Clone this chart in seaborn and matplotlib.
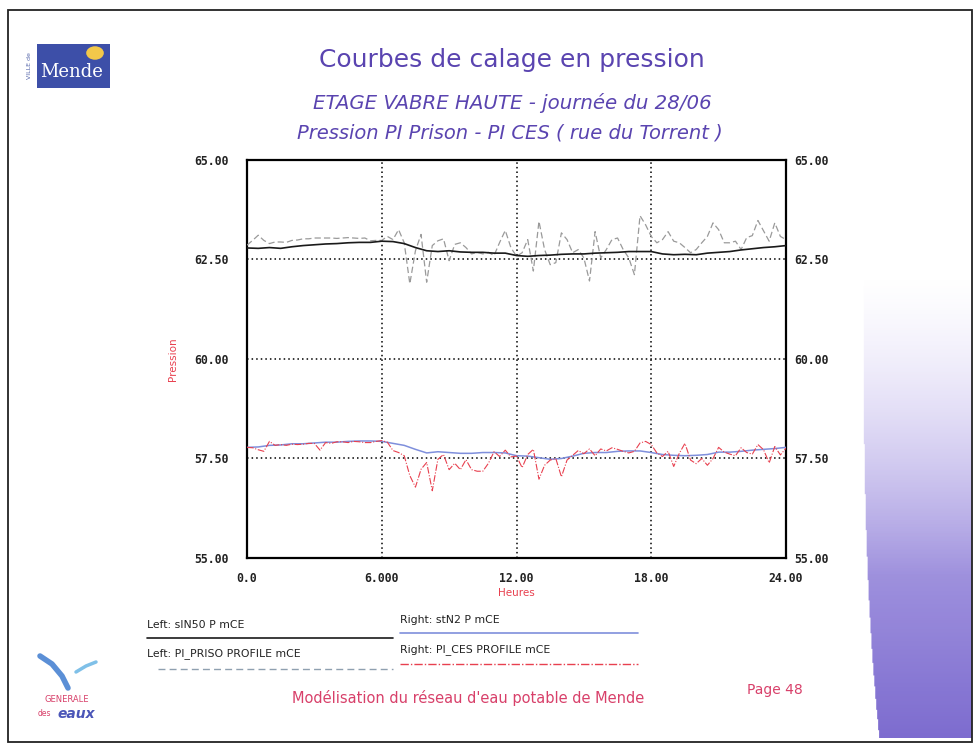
import numpy as np
import pandas as pd
import matplotlib
matplotlib.use("Agg")
import matplotlib.pyplot as plt
import seaborn as sns
from matplotlib.patches import Rectangle, Circle
from matplotlib.lines import Line2D

# ---------------- data ----------------
# half-hour time stamps for smooth series, quarter-hour for measured profiles
hours_half = np.linspace(0, 24, 49)
hours_quarter = np.linspace(0, 24, 97)

x_ticks = [0, 6, 12, 18, 24]
x_tick_labels = ["0.0", "6.000", "12.00", "18.00", "24.00"]
y_ticks = [55, 57.5, 60, 62.5, 65]
y_tick_labels = ["55.00", "57.50", "60.00", "62.50", "65.00"]

# Left: sIN50 P mCE (black, model)
sin50 = [62.79, 62.78, 62.80, 62.78, 62.82, 62.85, 62.87, 62.89, 62.90, 62.92,
         62.93, 62.93, 62.96, 62.95, 62.90, 62.80, 62.72, 62.70, 62.72, 62.69,
         62.68, 62.68, 62.66, 62.66, 62.60, 62.58, 62.60, 62.61, 62.63, 62.64,
         62.64, 62.66, 62.67, 62.68, 62.70, 62.70, 62.70, 62.64, 62.62, 62.63,
         62.62, 62.66, 62.68, 62.70, 62.74, 62.77, 62.80, 62.82, 62.85]

# Right: stN2 P mCE (blue, model)
stn2 = [57.78, 57.79, 57.83, 57.84, 57.87, 57.87, 57.89, 57.91, 57.91, 57.93,
        57.94, 57.94, 57.93, 57.88, 57.83, 57.73, 57.64, 57.67, 57.65, 57.63,
        57.63, 57.65, 57.65, 57.64, 57.57, 57.56, 57.52, 57.48, 57.50, 57.56,
        57.63, 57.65, 57.65, 57.68, 57.69, 57.69, 57.65, 57.60, 57.58, 57.57,
        57.58, 57.60, 57.66, 57.66, 57.68, 57.71, 57.73, 57.75, 57.78]

# Left: PI_PRISO PROFILE mCE (grey dashed, measured)
pi_priso = [62.86, 62.98, 63.11, 62.98, 62.90, 62.94, 62.94, 62.93, 62.98, 62.99,
            63.02, 63.02, 63.04, 63.04, 63.04, 63.04, 63.03, 63.04, 63.05, 63.04,
            63.03, 63.04, 62.97, 62.98, 62.98, 63.08, 63.00, 63.25, 62.92, 61.89,
            62.72, 63.13, 61.93, 62.85, 62.97, 63.02, 62.47, 62.88, 62.92, 62.80,
            62.64, 62.68, 62.64, 62.68, 62.60, 62.93, 63.23, 62.80, 62.58, 62.67,
            63.00, 62.21, 63.46, 62.75, 62.37, 62.42, 63.17, 63.00, 62.67, 62.75,
            62.54, 61.96, 63.20, 62.54, 62.75, 63.00, 63.04, 62.75, 62.54, 62.12,
            63.60, 63.37, 63.08, 62.92, 63.00, 63.20, 62.96, 62.92, 62.80, 62.67,
            62.75, 62.92, 63.08, 63.42, 63.25, 62.92, 62.92, 62.96, 62.75, 63.05,
            63.10, 63.48, 63.22, 62.96, 63.42, 63.08, 63.00]

# Right: PI_CES PROFILE mCE (red dash-dot, measured)
pi_ces = [57.78, 57.77, 57.72, 57.68, 57.93, 57.83, 57.85, 57.83, 57.86, 57.85,
          57.86, 57.88, 57.88, 57.71, 57.90, 57.88, 57.92, 57.92, 57.90, 57.93,
          57.92, 57.90, 57.90, 57.93, 57.95, 57.91, 57.70, 57.65, 57.57, 57.07,
          56.78, 57.23, 57.40, 56.69, 57.48, 57.60, 57.22, 57.38, 57.22, 57.47,
          57.22, 57.18, 57.18, 57.38, 57.67, 57.55, 57.71, 57.54, 57.56, 57.27,
          57.60, 57.73, 56.98, 57.33, 57.46, 57.50, 57.04, 57.46, 57.58, 57.70,
          57.62, 57.74, 57.57, 57.74, 57.69, 57.77, 57.73, 57.68, 57.64, 57.68,
          57.89, 57.93, 57.85, 57.64, 57.55, 57.68, 57.30, 57.63, 57.88, 57.46,
          57.37, 57.50, 57.33, 57.50, 57.78, 57.66, 57.61, 57.57, 57.77, 57.65,
          57.61, 57.85, 57.72, 57.39, 57.80, 57.59, 57.76]

legend_labels = ["Left: sIN50 P mCE", "Right: stN2 P mCE",
                 "Left: PI_PRISO PROFILE mCE", "Right: PI_CES PROFILE mCE"]

title = "Courbes de calage en pression"
subtitle1 = "ETAGE VABRE HAUTE - journée du 28/06"
subtitle2 = "Pression PI Prison - PI CES ( rue du Torrent )"
footer = "Modélisation du réseau d'eau potable de Mende"
page = "Page 48"

# ---------------- styling ----------------
sns.set_theme(style="white")
plt.rcParams['font.family'] = ['DejaVu Sans']

c_black = "#1a1a1a"
c_grey = "#9a9a9a"
c_blue = "#7f8fdc"
c_red = "#e8404f"
c_title = "#5a44b0"
c_pink = "#d8406a"
tick_font = dict(family="DejaVu Sans Mono", weight="bold", size=8.3)

W, H = 980, 749
fig = plt.figure(figsize=(W / 100, H / 100), dpi=100)
fig.patch.set_facecolor("white")


def fx(px):
    return px / W


def fy(py):
    return 1 - py / H


# right decorative gradient
ax_bg = fig.add_axes([fx(856), fy(738), fx(972) - fx(856), fy(270) - fy(738)], zorder=0)
nr, nc = 300, 120
rows = np.linspace(0, 1, nr)[:, None]
cols = np.linspace(0, 1, nc)[None, :]
top_c = np.array([220, 212, 248]) / 255
bot_c = np.array([118, 100, 205]) / 255
rgb = top_c[None, None, :] * (1 - rows[..., None]) + bot_c[None, None, :] * rows[..., None]
rgb = np.broadcast_to(rgb, (nr, nc, 3))
alpha = np.clip((rows - 0.02) * 1.5, 0, 0.95) * np.ones_like(cols)
edge = 0.06 + 0.14 * rows ** 3
alpha = np.where(cols < edge, 0, alpha)
img = np.dstack([rgb, alpha])
ax_bg.imshow(img, aspect="auto", extent=[0, 1, 0, 1])
ax_bg.axis("off")

# main axes
ax = fig.add_axes([fx(247), fy(558), fx(786) - fx(247), fy(160) - fy(558)], zorder=2)
df_l = pd.DataFrame({"h": hours_quarter, "p": pi_priso})
df_s = pd.DataFrame({"h": hours_half, "p": sin50})
sns.lineplot(data=df_l, x="h", y="p", ax=ax, color=c_grey, lw=0.9,
             linestyle=(0, (5, 2.5)), zorder=3)
sns.lineplot(data=df_s, x="h", y="p", ax=ax, color=c_black, lw=1.2, zorder=4)

ax.set_xlim(0, 24)
ax.set_ylim(55, 65)
ax.set_xticks(x_ticks)
ax.set_xticklabels(x_tick_labels, fontdict=tick_font)
ax.set_yticks(y_ticks)
ax.set_yticklabels(y_tick_labels, fontdict=tick_font)
ax.tick_params(axis="y", length=0, pad=13, colors="#222222")
ax.tick_params(axis="x", length=0, pad=10, colors="#222222")
ax.grid(True, linestyle=(0, (1, 2)), color="black", lw=1.1)
ax.set_xlabel("Heures", color=c_red, fontsize=7.5, labelpad=2)
ax.set_ylabel("Pression", color=c_red, fontsize=7.5, labelpad=12)
for s in ax.spines.values():
    s.set_color("black")
    s.set_linewidth(1.6)

ax2 = ax.twinx()
df_c = pd.DataFrame({"h": hours_quarter, "p": pi_ces})
df_b = pd.DataFrame({"h": hours_half, "p": stn2})
sns.lineplot(data=df_b, x="h", y="p", ax=ax2, color=c_blue, lw=1.1, zorder=3)
sns.lineplot(data=df_c, x="h", y="p", ax=ax2, color=c_red, lw=0.8,
             linestyle=(0, (6, 1.5, 1, 1.5)), zorder=4)
ax2.set_ylim(55, 65)
ax2.set_yticks(y_ticks)
ax2.set_yticklabels(y_tick_labels, fontdict=tick_font)
ax2.tick_params(axis="y", length=0, pad=6, colors="#222222")
ax2.set_ylabel("")
ax2.grid(False)
for s in ax2.spines.values():
    s.set_visible(False)

# titles
fig.text(fx(512), fy(60), title, ha="center", va="center", color=c_title, fontsize=18)
fig.text(fx(512), fy(103), subtitle1, ha="center", va="center", color=c_title,
         fontsize=14.2, style="italic")
fig.text(fx(510), fy(133), subtitle2, ha="center", va="center", color=c_title,
         fontsize=14, style="italic")

# manual legend block below the chart
leg = [
    (legend_labels[0], 147, 625, 147, 393, 638, c_black, "-", 1.2),
    (legend_labels[1], 400, 620, 400, 638, 633, c_blue, "-", 1.2),
    (legend_labels[2], 147, 654, 158, 393, 669, "#8fa0b0", (0, (5, 3)), 1.0),
    (legend_labels[3], 400, 650, 400, 638, 664, c_red, (0, (6, 1.5, 1, 1.5)), 1.0),
]
for lab, tx, ty, x0, x1, ly, col, ls, lw in leg:
    fig.text(fx(tx), fy(ty), lab, ha="left", va="center", fontsize=7.8, color="#222222")
    fig.add_artist(Line2D([fx(x0), fx(x1)], [fy(ly), fy(ly)], color=col,
                          linestyle=ls, lw=lw, transform=fig.transFigure))

# footer
fig.text(fx(468), fy(698), footer, ha="center", va="center", color=c_pink, fontsize=10.5)
fig.text(fx(775), fy(690), page, ha="center", va="center", color=c_pink, fontsize=10)

# page border
fig.add_artist(Rectangle((fx(8), fy(742)), fx(972) - fx(8), fy(10) - fy(742),
                         fill=False, lw=1.3, edgecolor="#222222",
                         transform=fig.transFigure, zorder=5))

# Mende logo (simplified)
fig.add_artist(Rectangle((fx(37), fy(88)), fx(110) - fx(37), fy(44) - fy(88),
                         facecolor="#3d4fa8", edgecolor="none",
                         transform=fig.transFigure, zorder=5))
fig.add_artist(Circle((fx(95), fy(53)), 0.009, facecolor="#f2c84a", edgecolor="none",
                      transform=fig.transFigure, zorder=6))
fig.text(fx(72), fy(72), "Mende", ha="center", va="center", color="white",
         fontsize=13, family="DejaVu Serif", zorder=7)
fig.text(fx(29), fy(66), "VILLE de", ha="center", va="center", color="#5566aa",
         fontsize=4.5, rotation=90)

# Generale des eaux logo (simplified)
fig.add_artist(Line2D([fx(40), fx(52), fx(62), fx(68)], [fy(656), fy(664), fy(676), fy(688)],
                      color="#5b8fd6", lw=4, solid_capstyle="round",
                      transform=fig.transFigure))
fig.add_artist(Line2D([fx(76), fx(86), fx(96)], [fy(672), fy(666), fy(662)],
                      color="#7fc0e8", lw=2.5, solid_capstyle="round",
                      transform=fig.transFigure))
fig.text(fx(67), fy(699), "GENERALE", ha="center", va="center", color=c_pink, fontsize=6)
fig.text(fx(44), fy(714), "des", ha="center", va="center", color=c_pink, fontsize=5.5)
fig.text(fx(76), fy(714), "eaux", ha="center", va="center", color="#4b56b8",
         fontsize=10, weight="bold", style="italic")

fig.savefig("out.png", dpi=100)
